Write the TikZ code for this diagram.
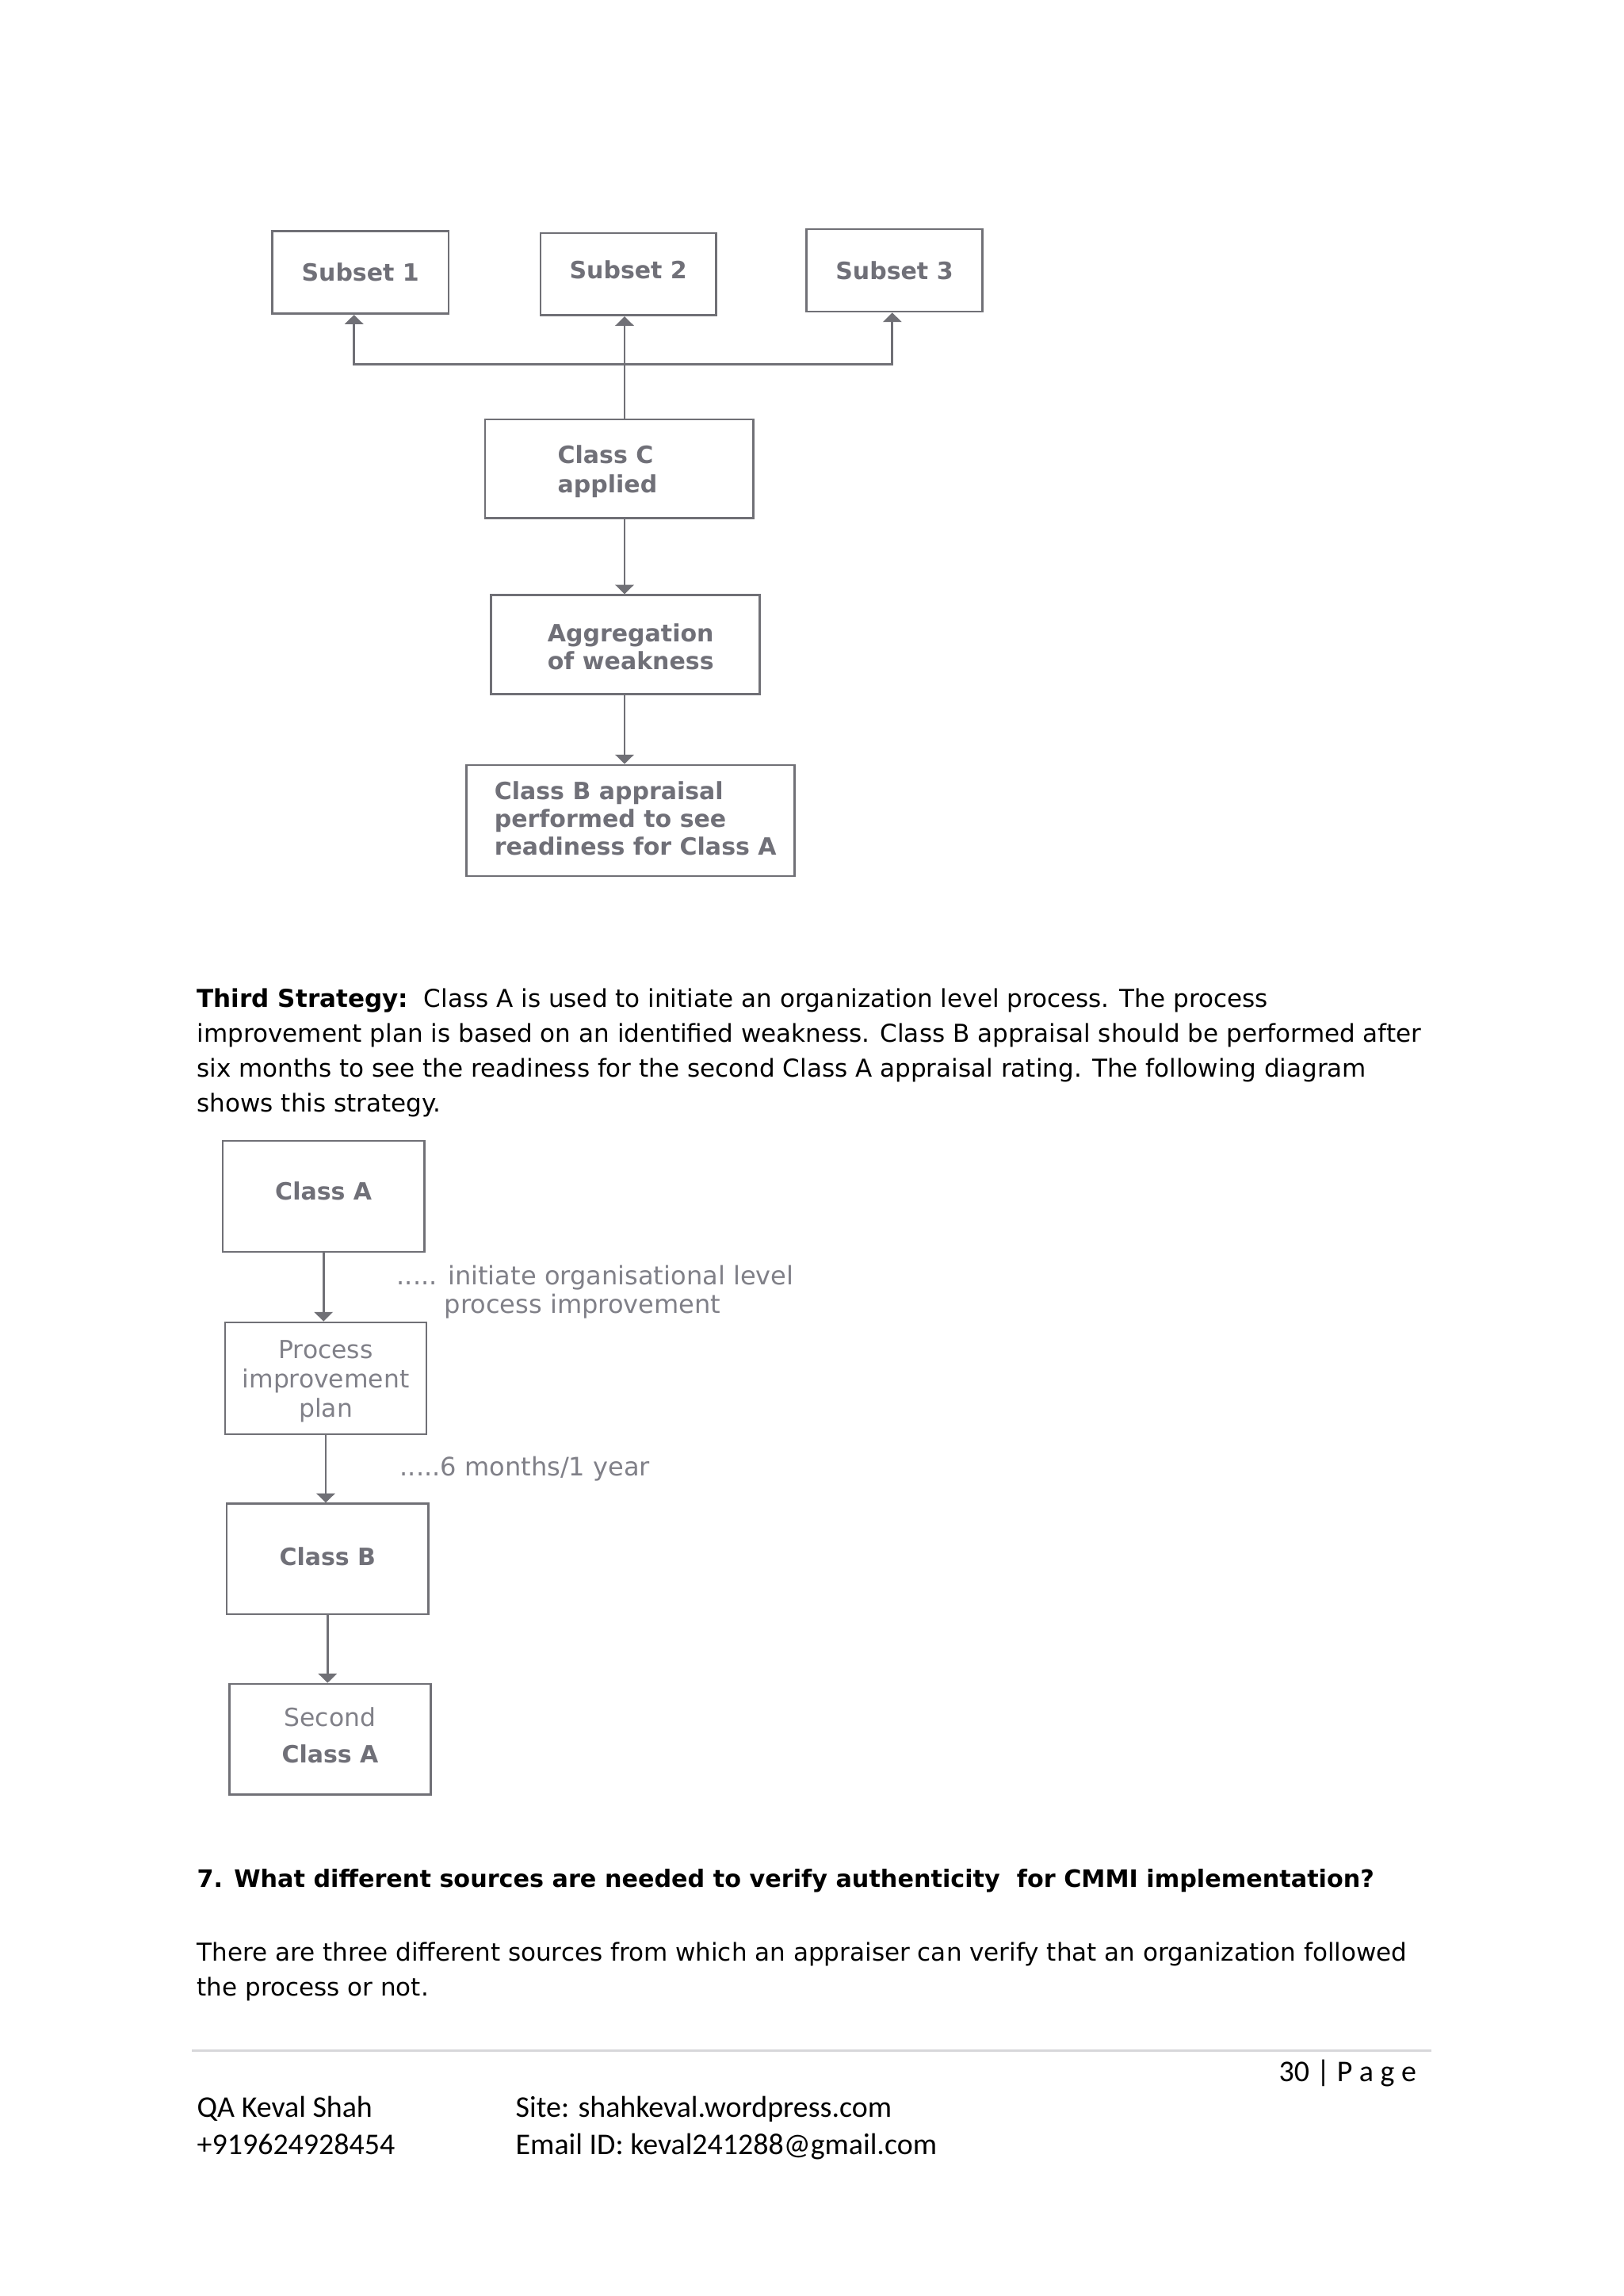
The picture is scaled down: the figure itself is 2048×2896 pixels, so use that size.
\documentclass[tikz,border=0pt]{standalone}
\usepackage{fontspec}
\setmainfont{DejaVu Sans}
\newfontfamily\footfont{Carlito}
\usetikzlibrary{arrows.meta}
\definecolor{dline}{RGB}{112,112,118}
\definecolor{dtext}{RGB}{112,112,120}
\definecolor{dlight}{RGB}{128,128,136}
\definecolor{rulec}{RGB}{215,215,218}
\begin{document}
\begin{tikzpicture}[x=0.29pt,y=-0.29pt,
  box/.style={draw=dline, line width=0.8pt, inner sep=0pt, text=dtext,
    font=\fontsize{8.7}{10.2}\selectfont\bfseries, align=center},
  lbox/.style={box, align=left},
  rbox/.style={box, text=dlight, font=\fontsize{9.1}{10.8}\selectfont},
  arr/.style={draw=dline, line width=0.8pt, -{Triangle[width=6.7pt,length=3.4pt]}},
  ln/.style={draw=dline, line width=0.8pt},
  body/.style={anchor=base west, inner sep=0pt, font=\fontsize{9}{11}\selectfont},
  anno/.style={anchor=base west, inner sep=0pt, text=dlight, font=\fontsize{9.3}{11}\selectfont},
  foot/.style={anchor=base west, inner sep=0pt, font=\footfont\fontsize{11}{13}\selectfont}]
\useasboundingbox[fill=white] (0,0) rectangle (2048,2896);

% ---------- top diagram ----------
\node[box, minimum width=222.8*0.29pt, minimum height=104*0.29pt] (s1) at (454.7,343.7) {Subset 1};
\node[box, minimum width=221.6*0.29pt, minimum height=103.7*0.29pt] (s2) at (792.7,345.9) {\raisebox{3.5pt}{Subset 2}};
\node[box, minimum width=222.2*0.29pt, minimum height=104*0.29pt] (s3) at (1128.5,341) {Subset 3};
\node[box, minimum width=338.7*0.29pt, minimum height=124.3*0.29pt] (cc) at (781.4,591.2)
  {\kern-8.7pt\raisebox{-3.55pt}[0pt][0pt]{\begin{tabular}{@{}l@{}}Class C\\[0.55pt]applied\end{tabular}}};
\node[lbox, minimum width=339*0.29pt, minimum height=124.5*0.29pt] (ag) at (789.2,813)
  {\kern3.8pt\raisebox{-4.35pt}[0pt][0pt]{\begin{tabular}{@{}l@{}}Aggregation\\of weakness\end{tabular}}};
\node[lbox, minimum width=414.4*0.29pt, minimum height=140*0.29pt] (cb) at (795.5,1035)
  {\kern3.6pt\raisebox{-2.7pt}[0pt][0pt]{\begin{tabular}{@{}l@{}}Class B appraisal\\performed to see\\readiness for Class A\end{tabular}}};

\coordinate (jn) at (788,459.3);
\coordinate (j1) at (446.7,459.3);
\coordinate (j3) at (1125.8,459.3);
\draw[ln] (jn |- cc.north) -- (jn);
\draw[arr] (jn) -| (j1 |- s1.south);
\draw[arr] (jn) -- (jn |- s2.south);
\draw[arr] (jn) -| (j3 |- s3.south);
\draw[arr] (jn |- cc.south) -- (jn |- ag.north);
\draw[arr] (jn |- ag.south) -- (jn |- cb.north);

% ---------- paragraph ----------
\node[body] (t1) at (248,1270) {\textbf{Third Strategy:}\ \ Class A is used to initiate an organization level process. The process};
\node[body] (t2) at (248,1314) {improvement plan is based on an identified weakness. Class B appraisal should be performed after};
\node[body] (t3) at (248,1358) {six months to see the readiness for the second Class A appraisal rating. The following diagram};
\node[body] (t4) at (248,1402) {shows this strategy.};

% ---------- lower diagram ----------
\node[box, minimum width=254.5*0.29pt, minimum height=140*0.29pt] (ca) at (408.2,1509) {\raisebox{4.1pt}{Class A}};
\node[rbox, minimum width=254*0.29pt, minimum height=141*0.29pt] (pip) at (411,1738.5)
  {\raisebox{-3.6pt}[0pt][0pt]{\begin{tabular}{@{}c@{}}Process\\improvement\\plan\end{tabular}}};
\node[box, minimum width=254.5*0.29pt, minimum height=139.3*0.29pt] (cbb) at (413.3,1966.4) {\raisebox{2.1pt}{Class B}};
\node[box, minimum width=254*0.29pt, minimum height=139.3*0.29pt] (sca) at (416.5,2193.7)
  {\begin{tabular}{@{}c@{}}{\mdseries\color{dlight}\fontsize{9.1}{10}\selectfont Second}\\[3.2pt]Class A\end{tabular}};

\draw[arr] (ca.south) -- (ca.south |- pip.north);
\draw[arr] (pip.south) -- (pip.south |- cbb.north);
\draw[arr] (cbb.south) -- (cbb.south |- sca.north);

\node[anno] (a1) at (500,1620) {..... initiate organisational level};
\node[anno] (a2) at (560,1656) {process improvement};
\node[anno] (a3) at (504,1861) {.....6 months/1 year};

% ---------- question ----------
\node[body, font=\fontsize{8.77}{11}\selectfont\bfseries] (q) at (248,2380) {7. What different sources are needed to verify authenticity\ \ for CMMI implementation?};
\node[body] (p1) at (248,2473) {There are three different sources from which an appraiser can verify that an organization followed};
\node[body] (p2) at (248,2517) {the process or not.};

% ---------- footer ----------
\draw[rulec, line width=0.8pt] (242,2586.7) -- (1806,2586.7);
\node[foot] (pg) at (1613,2625) {30 | P a g e};
\node[foot] (f1) at (248,2670) {QA Keval Shah};
\node[foot] (f2) at (650,2670) {Site: shahkeval.wordpress.com};
\node[foot] (f3) at (248,2717) {+919624928454};
\node[foot] (f4) at (650,2717) {Email ID: keval241288@gmail.com};
\end{tikzpicture}
\end{document}
